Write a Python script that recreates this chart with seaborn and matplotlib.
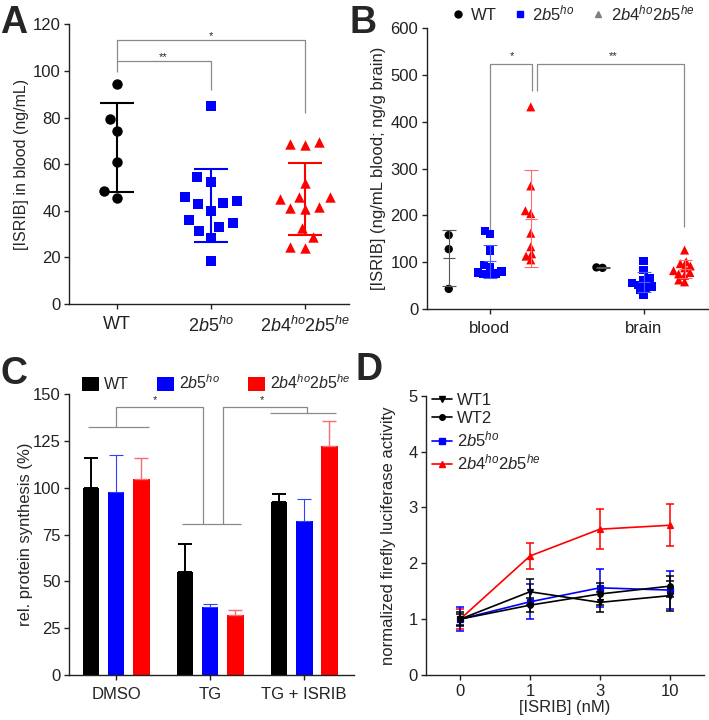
import numpy as np
import pandas as pd
import seaborn as sns
import matplotlib.pyplot as plt
from matplotlib.lines import Line2D
from matplotlib.patches import Patch

sns.set_style('ticks')
plt.rcParams['font.family'] = ['Liberation Sans', 'DejaVu Sans']
plt.rcParams['mathtext.fontset'] = 'custom'
plt.rcParams['mathtext.rm'] = 'Liberation Sans'
plt.rcParams['mathtext.it'] = 'Liberation Sans:italic'
plt.rcParams['mathtext.bf'] = 'Liberation Sans:bold'

# colours / labels
BLACK, BLUE, RED = '#000000', '#0000ff', '#ff0000'
GRAY = '#8a8a8a'
genotypes = ['WT', '2b5ho', '2b4ho2b5he']
geno_labels = ['WT', r'$\mathit{2b5}^{\mathit{ho}}$',
               r'$\mathit{2b4}^{\mathit{ho}}\mathit{2b5}^{\mathit{he}}$']

# ---- panel A: ISRIB in blood (ng/mL)
a_wt = [94.4, 79.3, 74.0, 60.7, 48.5, 45.5]
a_b5 = [85.0, 54.6, 52.5, 45.8, 44.3, 43.5, 42.9, 40.0, 36.0, 34.9, 33.2, 31.5, 28.3, 18.3]
a_b4 = [69.7, 68.7, 68.0, 52.0, 46.0, 45.8, 45.0, 41.8, 41.0, 40.6, 32.8, 28.9, 24.6, 23.9]

# ---- panel B: blood / brain
tissues = ['blood', 'brain']
b_wt_blood = [158, 128, 43]
b_b5_blood = [167, 160, 125, 94, 90, 80, 78, 76, 75, 74]
b_b4_blood = [432, 263, 210, 204, 162, 133, 118, 113, 105]
b_wt_brain = [88, 89]
b_b5_brain = [102, 84, 66, 62, 55, 52, 48, 45, 40, 30]
b_b4_brain = [126, 101, 97, 92, 88, 82, 78, 75, 72, 62, 58]

# ---- panel C: rel. protein synthesis (mean, upper error)
treatments = ['DMSO', 'TG', 'TG + ISRIB']
c_wt = [100.0, 55.0, 92.5]
c_wt_err = [15.8, 15.0, 4.3]
c_b5 = [97.7, 36.6, 82.2]
c_b5_err = [20.0, 1.4, 12.0]
c_b4 = [104.5, 32.2, 122.6]
c_b4_err = [11.3, 2.6, 13.2]

# ---- panel D: luciferase activity
doses = ['0', '1', '3', '10']
d_series = ['WT1', 'WT2', '2b5ho', '2b4ho2b5he']
d_labels = ['WT1', 'WT2', geno_labels[1], geno_labels[2]]
d_wt1 = [1.0, 1.49, 1.30, 1.42]
d_wt1_err = [0.10, 0.23, 0.18, 0.27]
d_wt2 = [1.0, 1.25, 1.45, 1.59]
d_wt2_err = [0.12, 0.13, 0.20, 0.19]
d_b5 = [1.0, 1.31, 1.56, 1.52]
d_b5_err = [0.21, 0.31, 0.34, 0.34]
d_b4 = [1.0, 2.13, 2.61, 2.68]
d_b4_err = [0.18, 0.24, 0.36, 0.38]


def style_ax(ax):
    sns.despine(ax=ax)
    for s in ['left', 'bottom']:
        ax.spines[s].set_linewidth(1.0)
        ax.spines[s].set_color('#222222')
    ax.tick_params(direction='out', length=3.5, width=1.0, labelsize=12,
                   colors='#222222', pad=2.5)


def bracket(ax, xs, ys, **kw):
    ax.plot(xs, ys, color=GRAY, lw=0.9, solid_capstyle='butt', **kw)


def freeze_swarms(fig, sizes):
    # lay the swarm out once, then keep positions and set the drawn marker size
    fig.canvas.draw()
    for coll, ms in sizes.items():
        if 'draw' in coll.__dict__:
            del coll.draw
        coll.set_sizes([ms ** 2])


fig = plt.figure(figsize=(7.09, 7.2), dpi=100)
swarm_sizes = {}

# ================= A
axA = fig.add_axes([0.0973, 0.5778, 0.395, 0.3885])
dfA = pd.DataFrame({
    'genotype': ['WT'] * len(a_wt) + ['2b5ho'] * len(a_b5) + ['2b4ho2b5he'] * len(a_b4),
    'value': a_wt + a_b5 + a_b4})
for g, c, m, ms in zip(genotypes, [BLACK, BLUE, RED], ['o', 's', '^'], [7.5, 7, 7.5]):
    sub = dfA[dfA.genotype == g]
    n0 = len(axA.collections)
    sns.swarmplot(data=sub, x='genotype', y='value', order=genotypes, color=c,
                  marker=m, size=10, linewidth=0, ax=axA)
    for coll in axA.collections[n0:]:
        swarm_sizes[coll] = ms
stats = dfA.groupby('genotype')['value'].agg(['mean', 'std'])
for i, (g, c) in enumerate(zip(genotypes, [BLACK, BLUE, RED])):
    axA.errorbar(i, stats.loc[g, 'mean'], yerr=stats.loc[g, 'std'], fmt='none',
                 ecolor=c, elinewidth=1.5, capsize=12, capthick=1.5, zorder=4)
axA.set_xlim(-0.51, 2.47)
axA.set_ylim(0, 120)
axA.set_yticks(range(0, 121, 20))
axA.set_xticks(range(3), labels=geno_labels)
axA.set_xlabel('')
axA.set_ylabel('[ISRIB] in blood (ng/mL)', fontsize=11.5, labelpad=3)
style_ax(axA)
axA.tick_params(axis='x', labelsize=13, pad=5)
bracket(axA, [0, 0, 1, 1], [99.7, 104.4, 104.4, 91.8])
bracket(axA, [0, 0, 2, 2], [104.4, 113.3, 113.3, 81.8])
axA.text(0.49, 106.0, '**', ha='center', va='center', fontsize=8)
axA.text(1.0, 115.0, '*', ha='center', va='center', fontsize=8)

# ================= B
axB = fig.add_axes([0.6018, 0.5708, 0.397, 0.3899])
rows = []
for t, groups in zip(tissues, [[b_wt_blood, b_b5_blood, b_b4_blood],
                               [b_wt_brain, b_b5_brain, b_b4_brain]]):
    for g, vals in zip(genotypes, groups):
        rows += [(t, g, v) for v in vals]
dfB = pd.DataFrame(rows, columns=['tissue', 'genotype', 'value'])
for g, c, m, ms in zip(genotypes, [BLACK, BLUE, RED], ['o', 's', '^'], [6, 6, 6.5]):
    sub = dfB[dfB.genotype == g]
    n0 = len(axB.collections)
    sns.swarmplot(data=sub, x='tissue', y='value', hue='genotype', order=tissues,
                  hue_order=genotypes, palette=[BLACK, BLUE, RED], dodge=True,
                  marker=m, size=4.2, linewidth=0, legend=False, ax=axB)
    for coll in axB.collections[n0:]:
        swarm_sizes[coll] = ms
statsB = dfB.groupby(['tissue', 'genotype'])['value'].agg(['mean', 'std'])
offsets = [-0.8 / 3, 0, 0.8 / 3]
ecols = ['#555555', '#4a5cff', '#ff6a6a']
for i, t in enumerate(tissues):
    for j, g in enumerate(genotypes):
        mu, sd = statsB.loc[(t, g), 'mean'], statsB.loc[(t, g), 'std']
        axB.errorbar(i + offsets[j], mu, yerr=sd, fmt='_', color=ecols[j], ms=9,
                     mew=0.8, ecolor=ecols[j], elinewidth=0.8, capsize=5,
                     capthick=0.8, zorder=4)
axB.set_xlim(-0.41, 1.42)
axB.set_ylim(0, 600)
axB.set_yticks(range(0, 601, 100))
axB.set_xlabel('')
axB.set_ylabel('[ISRIB] (ng/mL blood; ng/g brain)', fontsize=12, labelpad=3)
style_ax(axB)
axB.tick_params(axis='x', labelsize=12, pad=5)
bracket(axB, [0, 0, 0.277, 0.277], [167, 524, 524, 465])
bracket(axB, [0.307, 0.307, 1.266, 1.266], [465, 524, 524, 176])
axB.text(0.147, 540, '*', ha='center', va='center', fontsize=8)
axB.text(0.80, 540, '**', ha='center', va='center', fontsize=8)
hB = [Line2D([], [], ls='none', marker='o', color=BLACK, ms=5),
      Line2D([], [], ls='none', marker='s', color=BLUE, ms=4.5),
      Line2D([], [], ls='none', marker='^', color='#808080', ms=5)]
fig.legend(hB, geno_labels, loc='center left', bbox_to_anchor=(453 / 709, 1 - 13 / 720),
           ncol=3, frameon=False, fontsize=12, handlelength=0.6, handletextpad=0.45,
           columnspacing=1.1, borderpad=0, borderaxespad=0)

# ================= C
axC = fig.add_axes([0.0973, 0.0625, 0.402, 0.3899])
dfC = pd.DataFrame({
    'treatment': treatments * 3,
    'genotype': [g for g in genotypes for _ in treatments],
    'value': c_wt + c_b5 + c_b4})
sns.barplot(data=dfC, x='treatment', y='value', hue='genotype', order=treatments,
            hue_order=genotypes, palette=[BLACK, BLUE, RED], saturation=1,
            width=0.8, gap=0.33, errorbar=None, linewidth=0, legend=False, ax=axC)
for cont, errs, ec, lw in zip(axC.containers, [c_wt_err, c_b5_err, c_b4_err],
                              [BLACK, '#3040ff', '#f07070'], [1.4, 0.8, 1.0]):
    for bar, e in zip(cont, errs):
        xc = bar.get_x() + bar.get_width() / 2
        axC.errorbar(xc, bar.get_height(), yerr=[[0], [e]], fmt='none', ecolor=ec,
                     elinewidth=lw, capsize=5, capthick=lw, zorder=1)
axC.set_xlim(-0.5, 2.53)
axC.set_ylim(0, 150)
axC.set_yticks(range(0, 151, 25))
axC.set_xlabel('')
axC.set_ylabel('rel. protein synthesis (%)', fontsize=12, labelpad=0)
style_ax(axC)
axC.tick_params(axis='x', labelsize=12, pad=5)
bracket(axC, [-0.3, 0.35], [132.7, 132.7])
bracket(axC, [0, 0, 0.93, 0.93], [132.7, 143, 143, 80.5])
bracket(axC, [0.70, 1.33], [80.5, 80.5])
bracket(axC, [1.135, 1.135, 2.03, 2.03], [80.5, 143, 143, 139.8])
bracket(axC, [1.64, 2.34], [139.8, 139.8])
axC.text(0.41, 147, '*', ha='center', va='center', fontsize=8)
axC.text(1.55, 147, '*', ha='center', va='center', fontsize=8)
hC = [Patch(facecolor=c, edgecolor='none') for c in [BLACK, BLUE, RED]]
fig.legend(hC, geno_labels, loc='center left', bbox_to_anchor=(82 / 709, 1 - 383 / 720),
           ncol=3, frameon=False, fontsize=11.5, handlelength=1.05, handleheight=1.0,
           handletextpad=0.3, columnspacing=1.8, borderpad=0, borderaxespad=0)

# ================= D
axD = fig.add_axes([0.6008, 0.0625, 0.392, 0.388])
means_d = [d_wt1, d_wt2, d_b5, d_b4]
errs_d = [d_wt1_err, d_wt2_err, d_b5_err, d_b4_err]
dfD = pd.DataFrame({
    'dose': doses * 4,
    'series': [s for s in d_series for _ in doses],
    'value': sum(means_d, [])})
d_cols = [BLACK, BLACK, BLUE, RED]
d_marks = ['v', 'o', 's', '^']
sns.pointplot(data=dfD, x='dose', y='value', hue='series', order=doses,
              hue_order=d_series[::-1], palette=d_cols[::-1], markers=d_marks[::-1],
              linestyles='-', errorbar=None, markersize=4, linewidth=1.2,
              legend=False, ax=axD)
for m, e, c in zip(means_d[::-1], errs_d[::-1], d_cols[::-1]):
    axD.errorbar(np.arange(len(doses)), m, yerr=e, fmt='none', ecolor=c,
                 elinewidth=1.1, capsize=2.8, capthick=1.1, zorder=3)
axD.set_xlim(-0.49, 3.49)
axD.set_ylim(0, 5)
axD.set_yticks(range(0, 6))
axD.set_xlabel('[ISRIB] (nM)', fontsize=12, labelpad=1)
axD.set_ylabel('normalized firefly luciferase activity', fontsize=12, labelpad=9)
style_ax(axD)
axD.tick_params(axis='x', labelsize=12, pad=3)
hD = [Line2D([], [], color=c, marker=m, ms=4, lw=1.2) for c, m in zip(d_cols, d_marks)]
axD.legend(hD, d_labels, loc='upper left', bbox_to_anchor=(0.02, 1.01), frameon=False,
           fontsize=12, handlelength=1.2, handletextpad=0.3, labelspacing=0.2,
           borderpad=0, borderaxespad=0)

# panel letters
for lab, (x, y) in zip('ABCD', [(0, 5), (350, 5), (0, 356), (355, 352)]):
    fig.text(x / 709, 1 - y / 720, lab, fontsize=27, fontweight='bold', va='top', ha='left')

freeze_swarms(fig, swarm_sizes)
fig.savefig('out.png', dpi=100)
